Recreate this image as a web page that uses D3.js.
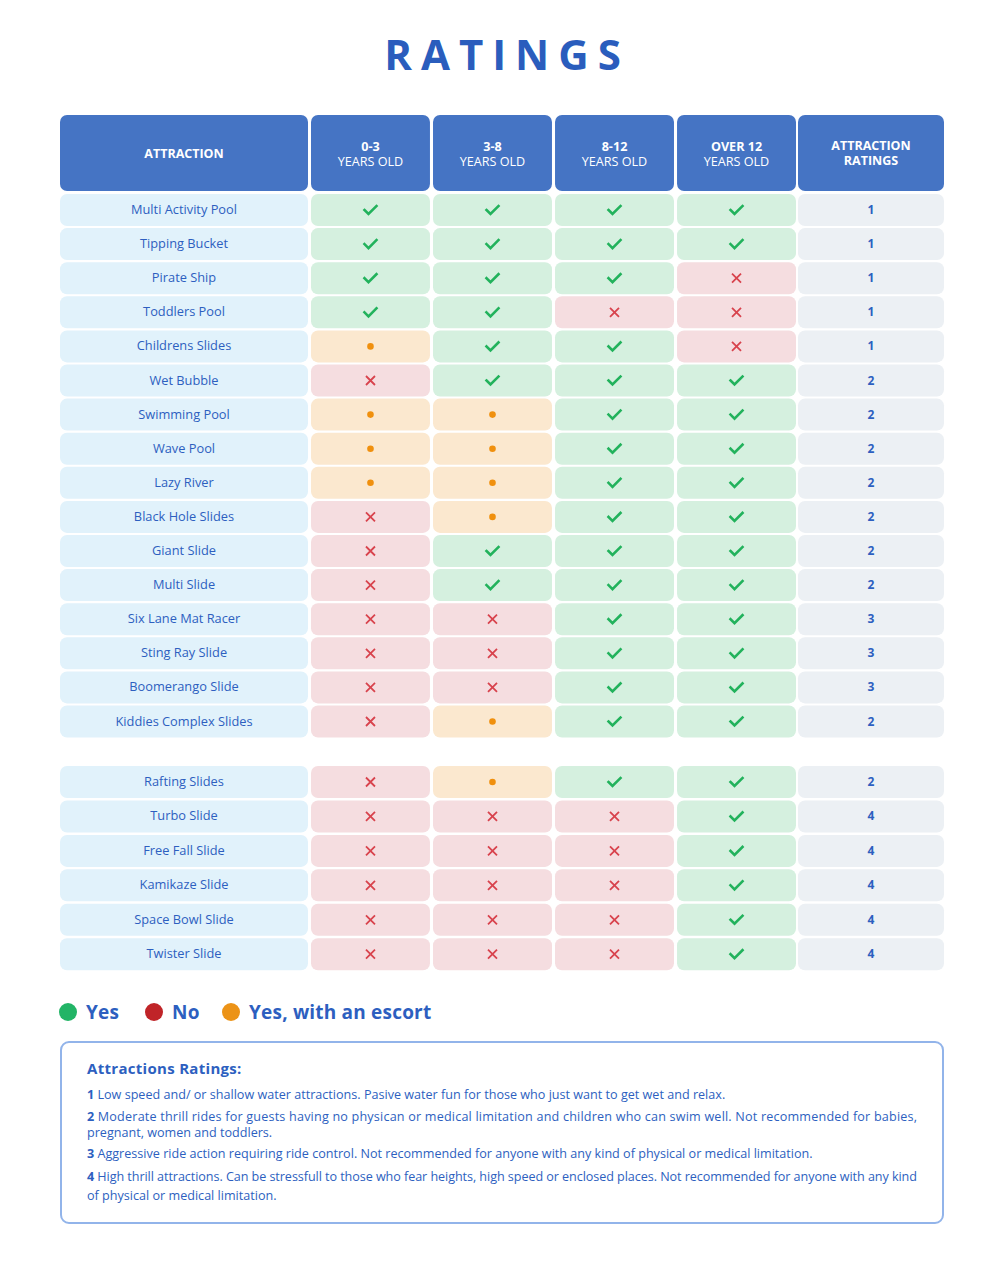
<!DOCTYPE html>
<html><head><meta charset="utf-8">
<script src="https://cdn.jsdelivr.net/npm/d3@7"></script>
<style>
html,body{margin:0;padding:0;background:#fff;}
svg{display:block;font-family:"Open Sans",sans-serif;}
</style></head>
<body>
<svg id="chart" width="1000" height="1262"></svg>
<script>
// ---- data ----
const ageGroups = ["0-3", "3-8", "8-12", "OVER 12"];
const attractions1 = ["Multi Activity Pool","Tipping Bucket","Pirate Ship","Toddlers Pool","Childrens Slides","Wet Bubble","Swimming Pool","Wave Pool","Lazy River","Black Hole Slides","Giant Slide","Multi Slide","Six Lane Mat Racer","Sting Ray Slide","Boomerango Slide","Kiddies Complex Slides"];
const status1 = ["YYYY","YYYY","YYYN","YYNN","EYYN","NYYY","EEYY","EEYY","EEYY","NEYY","NYYY","NYYY","NNYY","NNYY","NNYY","NEYY"];
const ratings1 = [1,1,1,1,1,2,2,2,2,2,2,2,3,3,3,2];
const attractions2 = ["Rafting Slides","Turbo Slide","Free Fall Slide","Kamikaze Slide","Space Bowl Slide","Twister Slide"];
const status2 = ["NEYY","NNNY","NNNY","NNNY","NNNY","NNNY"];
const ratings2 = [2,4,4,4,4,4];
const legendLabels = ["Yes","No","Yes, with an escort"];
const legendKeys = ["Y","N","E"];
const notesTitle = "Attractions Ratings:";
const notes = [
  ["1", "Low speed and/ or shallow water attractions. Pasive water  fun for those who just want to get wet and relax."],
  ["2", "Moderate thrill rides for guests having no physican or medical limitation and children who can swim well. Not recommended for babies,", "pregnant, women and toddlers."],
  ["3", "Aggressive ride action requiring ride control. Not recommended for anyone with any kind of physical or medical limitation."],
  ["4", "High thrill attractions. Can be stressfull to those who fear heights, high speed or enclosed places. Not recommended for anyone with any kind", "of physical or medical limitation."]
];

// ---- styling ----
const blue = "#2d5fc0";
const headFill = "#4574c4";
const cellFill = {Y:"#d5f0df", N:"#f5dde0", E:"#fbe8cf"};
const markColor = {Y:"#22b25c", N:"#d8434d", E:"#f0900e"};
const legendColor = {Y:"#22b466", N:"#c02428", E:"#ec9317"};

const svg = d3.select("#chart");

// title
svg.append("text").attr("x", 507).attr("y", 70)
  .attr("text-anchor","middle").attr("fill","#2a5dbd")
  .attr("font-size", 42).attr("font-weight", 700)
  .attr("letter-spacing", 9).text("RATINGS");

// rows
const rows = attractions1.map((a,i)=>({name:a, st:status1[i], r:ratings1[i], idx:i, g:0}))
  .concat(attractions2.map((a,i)=>({name:a, st:status2[i], r:ratings2[i], idx:i, g:1})));

const x = d3.scaleBand().domain(ageGroups).range([311, 796]).paddingInner(0.025);
const attrX = [60, 308];
const rateX = [798, 944];
const yRow = d3.scaleLinear().domain([0, 1]).range([194, 228.1]);
const groupStart = 766;
const rowH = 32;
const rowTop = d => d.g === 0 ? yRow(d.idx) : groupStart + (yRow(d.idx) - yRow(0)) * 1.01;

// header
const headTop = 115, headH = 76;
svg.append("rect").attr("x", attrX[0]).attr("y", headTop).attr("width", attrX[1]-attrX[0]).attr("height", headH).attr("rx", 7).attr("fill", headFill);
svg.append("text").attr("x", (attrX[0]+attrX[1])/2).attr("y", 158).attr("text-anchor","middle")
  .attr("fill","#fff").attr("font-size",12.5).attr("font-weight",700).text("ATTRACTION");
ageGroups.forEach(a=>{
  svg.append("rect").attr("x", x(a)).attr("y", headTop).attr("width", x.bandwidth()).attr("height", headH).attr("rx", 7).attr("fill", headFill);
  const t = svg.append("text").attr("text-anchor","middle").attr("fill","#fff").attr("font-size",12.6);
  t.append("tspan").attr("x", x(a)+x.bandwidth()/2).attr("y", 151).attr("font-weight",700).text(a);
  t.append("tspan").attr("x", x(a)+x.bandwidth()/2).attr("y", 166).text("YEARS OLD");
});
svg.append("rect").attr("x", rateX[0]).attr("y", headTop).attr("width", rateX[1]-rateX[0]).attr("height", headH).attr("rx", 7).attr("fill", headFill);
{
  const t = svg.append("text").attr("text-anchor","middle").attr("fill","#fff").attr("font-size",12.5).attr("font-weight",700);
  t.append("tspan").attr("x",(rateX[0]+rateX[1])/2).attr("y",150).text("ATTRACTION");
  t.append("tspan").attr("x",(rateX[0]+rateX[1])/2).attr("y",165).text("RATINGS");
}

// body rows
const rg = svg.selectAll("g.row").data(rows).join("g").attr("class","row")
  .attr("transform", d=>`translate(0,${rowTop(d)})`);
rg.append("rect").attr("x", attrX[0]).attr("width", attrX[1]-attrX[0]).attr("height", rowH).attr("rx", 7).attr("fill","#e1f2fb");
rg.append("text").attr("x",(attrX[0]+attrX[1])/2).attr("y", 20).attr("text-anchor","middle")
  .attr("fill", blue).attr("font-size", 12.8).text(d=>d.name);
rg.append("rect").attr("x", rateX[0]).attr("width", rateX[1]-rateX[0]).attr("height", rowH).attr("rx", 7).attr("fill","#ecf0f4");
rg.append("text").attr("x",(rateX[0]+rateX[1])/2).attr("y", 20).attr("text-anchor","middle")
  .attr("fill", blue).attr("font-size", 12).attr("font-weight",700).text(d=>d.r);

rg.each(function(d){
  const g = d3.select(this);
  ageGroups.forEach((a,j)=>{
    const s = d.st[j];
    const cx = x(a) + x.bandwidth()/2, cy = rowH/2;
    g.append("rect").attr("x", x(a)).attr("width", x.bandwidth()).attr("height", rowH).attr("rx", 7).attr("fill", cellFill[s]);
    if (s === "Y") {
      g.append("path").attr("d", `M${cx-6},${cy} L${cx-2},${cy+4} L${cx+6},${cy-4}`)
        .attr("fill","none").attr("stroke", markColor.Y).attr("stroke-width", 2.6).attr("stroke-linecap","square");
    } else if (s === "N") {
      g.append("path").attr("d", `M${cx-4.5},${cy-4.5} L${cx+4.5},${cy+4.5} M${cx+4.5},${cy-4.5} L${cx-4.5},${cy+4.5}`)
        .attr("fill","none").attr("stroke", markColor.N).attr("stroke-width", 1.8);
    } else {
      g.append("circle").attr("cx", cx).attr("cy", cy).attr("r", 3.3).attr("fill", markColor.E);
    }
  });
});

// legend
const legX = [68, 154, 231];
legendKeys.forEach((k,i)=>{
  svg.append("circle").attr("cx", legX[i]).attr("cy", 1012).attr("r", 9).attr("fill", legendColor[k]);
  svg.append("text").attr("x", legX[i]+18).attr("y", 1019).attr("fill", blue)
    .attr("font-size", 19).attr("font-weight", 700).attr("letter-spacing", 0.2).text(legendLabels[i]);
});

// notes box
svg.append("rect").attr("x", 61).attr("y", 1042).attr("width", 882).attr("height", 181).attr("rx", 8)
  .attr("fill","#fff").attr("stroke","#92b4ea").attr("stroke-width", 2);
svg.append("text").attr("x", 87).attr("y", 1074).attr("fill", blue).attr("font-size", 15).attr("font-weight",700).attr("letter-spacing",0.3).text(notesTitle);
const lineYs = [[1099],[1121,1137],[1158],[1181,1200]];
const textW = 830;
notes.forEach((n,i)=>{
  const t = svg.append("text").attr("x", 87).attr("y", lineYs[i][0]).attr("fill", blue).attr("font-size", 12.6);
  if (n.length > 2) t.attr("textLength", textW).attr("lengthAdjust","spacing");
  t.append("tspan").attr("font-weight",700).text(n[0]);
  t.append("tspan").text(" " + n[1]);
  if (n.length > 2) {
    svg.append("text").attr("x", 87).attr("y", lineYs[i][1]).attr("fill", blue).attr("font-size", 12.6).text(n[2]);
  }
});
</script>
</body></html>
